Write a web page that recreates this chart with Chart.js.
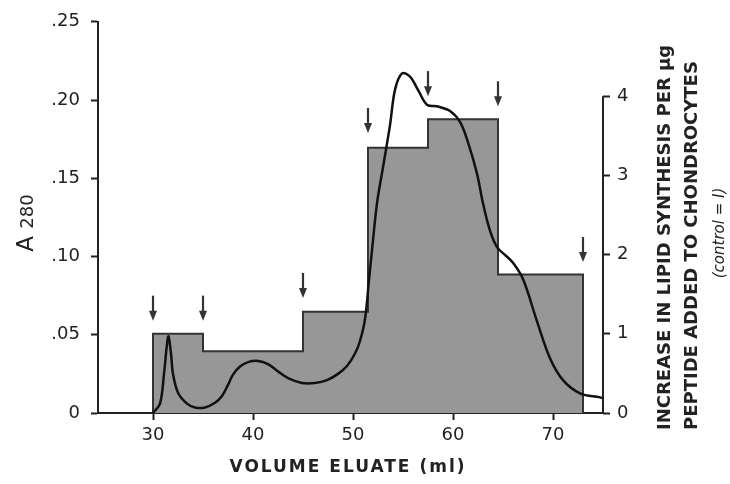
<!DOCTYPE html>
<html>
<head>
<meta charset="utf-8">
<script src="https://cdn.jsdelivr.net/npm/chart.js@4/dist/chart.umd.min.js"></script>
<style>
  body { margin: 0; background: #fff; }
  #wrap { width: 730px; height: 484px; }
</style>
</head>
<body>
<div id="wrap"><canvas id="chart" width="730" height="484"></canvas></div>
<script>
// fractions collected from the column (ml) and lipid synthesis of each one
const fractionEdges = [30, 35, 45, 51.5, 57.5, 64.5, 73];
const lipidValues = [1.0, 0.78, 1.28, 3.35, 3.71, 1.75];

// A280 elution profile
const eluateVolume = [30.0, 30.7, 31.1, 31.4, 31.55, 31.8, 32.0, 32.5, 33.4, 34.2, 35.2, 36.2, 36.9, 37.5, 38.0, 38.7, 39.5, 40.5, 41.5, 42.5, 43.5, 44.9, 46.2, 47.4, 48.5, 49.4, 50.2, 50.7, 51.2, 51.6, 51.9, 52.4, 53.0, 53.7, 54.2, 54.9, 55.7, 56.5, 57.4, 58.4, 59.7, 60.7, 61.5, 62.4, 63.0, 63.7, 64.4, 65.2, 66.0, 67.0, 68.4, 69.7, 71.0, 72.7, 74.7, 75.0];
const a280Values = [0, 0.006, 0.025, 0.044, 0.049, 0.038, 0.025, 0.013, 0.006, 0.0035, 0.0035, 0.0065, 0.0108, 0.018, 0.0245, 0.0297, 0.0325, 0.0333, 0.0312, 0.0266, 0.0223, 0.0192, 0.0192, 0.021, 0.025, 0.030, 0.038, 0.046, 0.060, 0.085, 0.104, 0.134, 0.157, 0.184, 0.2065, 0.217, 0.215, 0.2065, 0.197, 0.196, 0.193, 0.186, 0.173, 0.153, 0.134, 0.1165, 0.106, 0.101, 0.096, 0.0856, 0.0586, 0.035, 0.021, 0.0126, 0.010, 0.0095];

// arrows marking the fraction cuts (tip height on the A280 scale)
const arrowVolumes = [30, 35, 45, 51.5, 57.5, 64.5, 73];
const arrowTips = [0.059, 0.059, 0.0735, 0.179, 0.2025, 0.196, 0.0965];

const xTicks = [30, 40, 50, 60, 70];
const leftTicks = [0, 0.05, 0.10, 0.15, 0.20, 0.25];
const leftLabels = ['0', '.05', '.10', '.15', '.20', '.25'];
const rightTicks = [0, 1, 2, 3, 4];

const ink = '#222';
const tickFont = { family: 'DejaVu Sans', size: 18 };

// step outline of the bioassay: closed down to the baseline at both ends
const stepPoints = [{ x: fractionEdges[0], y: 0 }];
lipidValues.forEach((v, i) => stepPoints.push({ x: fractionEdges[i], y: v }));
stepPoints.push({ x: fractionEdges[fractionEdges.length - 1], y: lipidValues[lipidValues.length - 1] });
stepPoints.push({ x: fractionEdges[fractionEdges.length - 1], y: 0 });

const profilePoints = eluateVolume.map((v, i) => ({ x: v, y: a280Values[i] }));

const extras = {
    id: 'extras',
    afterDatasetsDraw(chart) {
        const { ctx, scales: { x, y } } = chart;
        ctx.save();
        ctx.strokeStyle = '#333';
        ctx.fillStyle = '#333';
        ctx.lineWidth = 2.2;
        arrowVolumes.forEach((v, i) => {
            const px = x.getPixelForValue(v);
            const tip = y.getPixelForValue(arrowTips[i]);
            ctx.beginPath();
            ctx.moveTo(px, tip - 25);
            ctx.lineTo(px, tip - 8);
            ctx.stroke();
            ctx.beginPath();
            ctx.moveTo(px - 4, tip - 10);
            ctx.lineTo(px + 4, tip - 10);
            ctx.lineTo(px, tip);
            ctx.closePath();
            ctx.fill();
        });
        ctx.restore();
    },
    afterDraw(chart) {
        const { ctx, chartArea, scales: { y2 } } = chart;
        ctx.save();
        // right axis only runs from 0 to 4
        ctx.strokeStyle = ink;
        ctx.lineWidth = 2;
        ctx.beginPath();
        ctx.moveTo(chartArea.right, y2.getPixelForValue(4));
        ctx.lineTo(chartArea.right, y2.getPixelForValue(0));
        ctx.stroke();

        ctx.fillStyle = ink;
        ctx.textBaseline = 'middle';

        // x title
        ctx.font = 'bold 17px "DejaVu Sans"';
        ctx.textAlign = 'center';
        ctx.letterSpacing = '2px';
        ctx.fillText('VOLUME ELUATE (ml)', 348, 468);
        ctx.letterSpacing = '0px';

        // left title, "A" a bit larger than "280", same baseline
        ctx.save();
        ctx.translate(33, 223);
        ctx.rotate(-Math.PI / 2);
        ctx.textAlign = 'left';
        ctx.textBaseline = 'alphabetic';
        ctx.font = '23px "DejaVu Sans"';
        const aw = ctx.measureText('A ').width;
        ctx.font = '18px "DejaVu Sans"';
        const nw = ctx.measureText('280').width;
        ctx.font = '23px "DejaVu Sans"';
        ctx.fillText('A', -(aw + nw) / 2, 0);
        ctx.font = '18px "DejaVu Sans"';
        ctx.fillText('280', -(aw + nw) / 2 + aw, 0);
        ctx.restore();

        // right title
        ctx.save();
        ctx.translate(665, 430);
        ctx.rotate(-Math.PI / 2);
        ctx.textAlign = 'left';
        ctx.font = 'bold 18px "DejaVu Sans"';
        ctx.fillText('INCREASE IN LIPID SYNTHESIS PER µg', 0, 0, 386);
        ctx.fillText('PEPTIDE ADDED TO CHONDROCYTES', 0, 27, 373);
        ctx.textAlign = 'center';
        ctx.font = 'italic 15px "DejaVu Sans"';
        ctx.fillText('(control = I)', 197, 55);
        ctx.restore();

        ctx.restore();
    }
};

new Chart(document.getElementById('chart'), {
    type: 'line',
    data: {
        datasets: [{
            label: 'A280',
            data: profilePoints,
            yAxisID: 'y',
            borderColor: '#111',
            borderWidth: 2.5,
            pointRadius: 0,
            tension: 0.35,
            fill: false,
            order: 0
        }, {
            label: 'Lipid synthesis',
            data: stepPoints,
            yAxisID: 'y2',
            stepped: 'before',
            borderColor: '#333',
            borderWidth: 2,
            backgroundColor: '#979797',
            pointRadius: 0,
            fill: 'origin',
            order: 1
        }]
    },
    options: {
        responsive: false,
        animation: false,
        layout: { padding: { top: 18, left: 0, right: 0, bottom: 0 } },
        plugins: {
            legend: { display: false },
            tooltip: { enabled: false }
        },
        scales: {
            x: {
                type: 'linear',
                min: 24.5,
                max: 75,
                afterBuildTicks: s => { s.ticks = xTicks.map(v => ({ value: v })); },
                afterFit: s => { s.height = 71; },
                border: { color: ink, width: 2 },
                grid: { drawOnChartArea: false, tickLength: 7, tickColor: ink, tickWidth: 2 },
                ticks: { color: ink, font: tickFont, padding: 5, maxRotation: 0 }
            },
            y: {
                position: 'left',
                min: 0,
                max: 0.25,
                afterBuildTicks: s => { s.ticks = leftTicks.map(v => ({ value: v })); },
                afterFit: s => { s.width = 98; },
                border: { color: ink, width: 2 },
                grid: { drawOnChartArea: false, tickLength: 7, tickColor: ink, tickWidth: 2 },
                ticks: {
                    color: ink,
                    font: tickFont,
                    padding: 11,
                    callback: (v, i) => leftLabels[i]
                }
            },
            y2: {
                position: 'right',
                min: 0,
                max: 4.94,
                afterBuildTicks: s => { s.ticks = rightTicks.map(v => ({ value: v })); },
                afterFit: s => { s.width = 127; },
                border: { display: false },
                grid: { drawOnChartArea: false, tickLength: 7, tickColor: ink, tickWidth: 2 },
                ticks: { color: ink, font: tickFont, padding: 7 }
            }
        }
    },
    plugins: [extras]
});
</script>
</body>
</html>
